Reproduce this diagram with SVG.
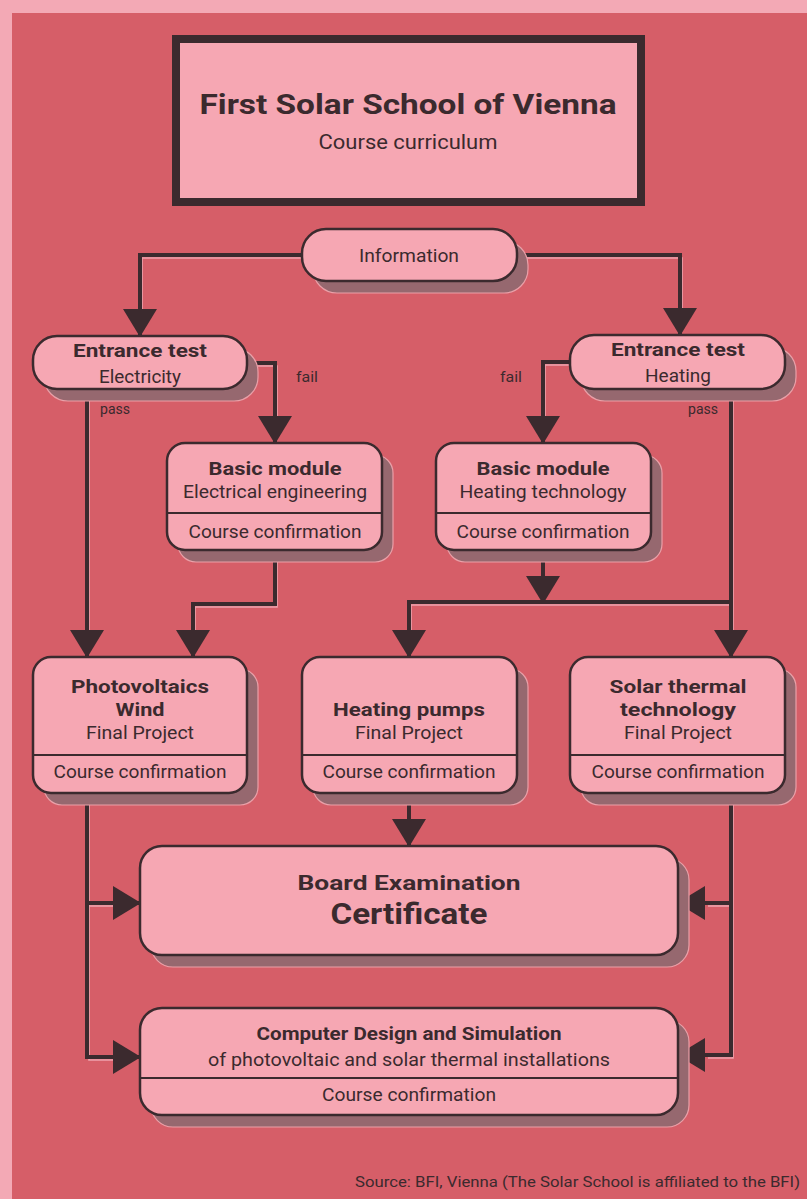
<svg xmlns="http://www.w3.org/2000/svg" width="807" height="1199" viewBox="0 0 807 1199">
<defs>
<style>
.t{font-family:Roboto,"Liberation Sans",sans-serif;fill:#3b2a2e;text-anchor:middle}
.b{font-weight:bold}
.n{fill:#f6a7b3;stroke:#3b2a2e;stroke-width:2.5}
.sh{fill:#96686f;stroke:#e9a0a8;stroke-width:1.2}
.dv{stroke:#3b2a2e;stroke-width:2}
.c{fill:none;stroke:#3b2a2e;stroke-width:4;stroke-linejoin:miter}
.hl{fill:none;stroke:#eea3ad;stroke-width:1.6}
</style>
<marker id="ah" markerUnits="userSpaceOnUse" markerWidth="28" markerHeight="34" refX="27" refY="17" orient="auto" viewBox="0 0 28 34">
<path d="M0,0 L28,17 L0,34 Z" fill="#3b2a2e"/>
</marker>
</defs>
<rect x="0" y="0" width="807" height="1199" fill="#f3a9b5"/>
<rect x="12" y="13" width="795" height="1186" fill="#d65e68"/>

<g id="title">
<rect x="176" y="39" width="465" height="163" fill="#f6a7b3" stroke="#3b2a2e" stroke-width="8"/>
<text class="t b" x="408" y="114" font-size="28" textLength="417" lengthAdjust="spacingAndGlyphs">First Solar School of Vienna</text>
<text class="t" x="408" y="149" font-size="20" textLength="179" lengthAdjust="spacingAndGlyphs">Course curriculum</text>
</g>

<g id="connectors">
<g transform="translate(2,3)">
<path class="hl" d="M302,255 H140 V320"/>
<path class="hl" d="M517,255 H680 V320"/>
<path class="hl" d="M247,363 H275 V430"/>
<path class="hl" d="M570,362 H543 V430"/>
<path class="hl" d="M87,389 V640"/>
<path class="hl" d="M731,389 V640"/>
<path class="hl" d="M275,550 V604 H193 V640"/>
<path class="hl" d="M409,640 V602 H731"/>
<path class="hl" d="M87,793 V1057 H112"/>
<path class="hl" d="M87,903 H112"/>
<path class="hl" d="M731,793 V1055 H706"/>
<path class="hl" d="M731,903 H706"/>
</g>
<path class="c" d="M302,255 H140 V336" marker-end="url(#ah)"/>
<path class="c" d="M517,255 H680 V335" marker-end="url(#ah)"/>
<path class="c" d="M247,363 H275 V443" marker-end="url(#ah)"/>
<path class="c" d="M570,362 H543 V443" marker-end="url(#ah)"/>
<path class="c" d="M87,389 V657" marker-end="url(#ah)"/>
<path class="c" d="M731,389 V657" marker-end="url(#ah)"/>
<path class="c" d="M275,550 V604 H193 V657" marker-end="url(#ah)"/>
<path class="c" d="M543,550 V603" marker-end="url(#ah)"/>
<path class="c" d="M731,602 H409 V657" marker-end="url(#ah)"/>
<path class="c" d="M409,793 V846" marker-end="url(#ah)"/>
<path class="c" d="M87,793 V1057 H140" marker-end="url(#ah)"/>
<path class="c" d="M87,903 H140" marker-end="url(#ah)"/>
<path class="c" d="M731,793 V1055 H678" marker-end="url(#ah)"/>
<path class="c" d="M731,903 H678" marker-end="url(#ah)"/>
<text class="t" x="307" y="382" font-size="14" textLength="22" lengthAdjust="spacingAndGlyphs">fail</text>
<text class="t" x="511" y="382" font-size="14" textLength="22" lengthAdjust="spacingAndGlyphs">fail</text>
<text class="t" x="115" y="414" font-size="14" textLength="30" lengthAdjust="spacingAndGlyphs">pass</text>
<text class="t" x="703" y="414" font-size="14" textLength="30" lengthAdjust="spacingAndGlyphs">pass</text>
</g>

<g id="information">
<rect class="sh" x="313" y="241" width="215" height="52" rx="24"/>
<rect class="n" x="302" y="229" width="215" height="52" rx="24"/>
<text class="t" x="409" y="262" font-size="19" textLength="100" lengthAdjust="spacingAndGlyphs">Information</text>
</g>

<g id="entrance-electricity">
<rect class="sh" x="44" y="348" width="214" height="53" rx="24"/>
<rect class="n" x="33" y="336" width="214" height="53" rx="24"/>
<text class="t b" x="140" y="357" font-size="19" textLength="134" lengthAdjust="spacingAndGlyphs">Entrance test</text>
<text class="t" x="140" y="383" font-size="19" textLength="82" lengthAdjust="spacingAndGlyphs">Electricity</text>
</g>

<g id="entrance-heating">
<rect class="sh" x="581" y="347" width="215" height="54" rx="24"/>
<rect class="n" x="570" y="335" width="215" height="54" rx="24"/>
<text class="t b" x="678" y="356" font-size="19" textLength="134" lengthAdjust="spacingAndGlyphs">Entrance test</text>
<text class="t" x="678" y="382" font-size="19" textLength="66" lengthAdjust="spacingAndGlyphs">Heating</text>
</g>

<g id="basic-electrical">
<rect class="sh" x="178" y="455" width="215" height="107" rx="18"/>
<rect class="n" x="167" y="443" width="215" height="107" rx="18"/>
<line class="dv" x1="167" y1="513" x2="382" y2="513"/>
<text class="t b" x="275" y="475" font-size="19" textLength="133" lengthAdjust="spacingAndGlyphs">Basic module</text>
<text class="t" x="275" y="498" font-size="19" textLength="184" lengthAdjust="spacingAndGlyphs">Electrical engineering</text>
<text class="t" x="275" y="538" font-size="19" textLength="173" lengthAdjust="spacingAndGlyphs">Course confirmation</text>
</g>

<g id="basic-heating">
<rect class="sh" x="447" y="455" width="215" height="107" rx="18"/>
<rect class="n" x="436" y="443" width="215" height="107" rx="18"/>
<line class="dv" x1="436" y1="513" x2="651" y2="513"/>
<text class="t b" x="543" y="475" font-size="19" textLength="133" lengthAdjust="spacingAndGlyphs">Basic module</text>
<text class="t" x="543" y="498" font-size="19" textLength="167" lengthAdjust="spacingAndGlyphs">Heating technology</text>
<text class="t" x="543" y="538" font-size="19" textLength="173" lengthAdjust="spacingAndGlyphs">Course confirmation</text>
</g>

<g id="photovoltaics">
<rect class="sh" x="44" y="669" width="214" height="136" rx="18"/>
<rect class="n" x="33" y="657" width="214" height="136" rx="18"/>
<line class="dv" x1="33" y1="755" x2="247" y2="755"/>
<text class="t b" x="140" y="693" font-size="19" textLength="138" lengthAdjust="spacingAndGlyphs">Photovoltaics</text>
<text class="t b" x="140" y="716" font-size="19" textLength="49" lengthAdjust="spacingAndGlyphs">Wind</text>
<text class="t" x="140" y="739" font-size="19" textLength="108" lengthAdjust="spacingAndGlyphs">Final Project</text>
<text class="t" x="140" y="778" font-size="19" textLength="173" lengthAdjust="spacingAndGlyphs">Course confirmation</text>
</g>

<g id="heating-pumps">
<rect class="sh" x="313" y="669" width="215" height="136" rx="18"/>
<rect class="n" x="302" y="657" width="215" height="136" rx="18"/>
<line class="dv" x1="302" y1="755" x2="517" y2="755"/>
<text class="t b" x="409" y="716" font-size="19" textLength="152" lengthAdjust="spacingAndGlyphs">Heating pumps</text>
<text class="t" x="409" y="739" font-size="19" textLength="108" lengthAdjust="spacingAndGlyphs">Final Project</text>
<text class="t" x="409" y="778" font-size="19" textLength="173" lengthAdjust="spacingAndGlyphs">Course confirmation</text>
</g>

<g id="solar-thermal">
<rect class="sh" x="581" y="669" width="215" height="136" rx="18"/>
<rect class="n" x="570" y="657" width="215" height="136" rx="18"/>
<line class="dv" x1="570" y1="755" x2="785" y2="755"/>
<text class="t b" x="678" y="693" font-size="19" textLength="137" lengthAdjust="spacingAndGlyphs">Solar thermal</text>
<text class="t b" x="678" y="716" font-size="19" textLength="116" lengthAdjust="spacingAndGlyphs">technology</text>
<text class="t" x="678" y="739" font-size="19" textLength="108" lengthAdjust="spacingAndGlyphs">Final Project</text>
<text class="t" x="678" y="778" font-size="19" textLength="173" lengthAdjust="spacingAndGlyphs">Course confirmation</text>
</g>

<g id="board-examination">
<rect class="sh" x="151" y="858" width="538" height="109" rx="22"/>
<rect class="n" x="140" y="846" width="538" height="109" rx="22"/>
<text class="t b" x="409" y="890" font-size="21" textLength="223" lengthAdjust="spacingAndGlyphs">Board Examination</text>
<text class="t b" x="409" y="924" font-size="30" textLength="157" lengthAdjust="spacingAndGlyphs">Certificate</text>
</g>

<g id="computer-design">
<rect class="sh" x="151" y="1020" width="538" height="107" rx="22"/>
<rect class="n" x="140" y="1008" width="538" height="107" rx="22"/>
<line class="dv" x1="140" y1="1078" x2="678" y2="1078"/>
<text class="t b" x="409" y="1040" font-size="19" textLength="305" lengthAdjust="spacingAndGlyphs">Computer Design and Simulation</text>
<text class="t" x="409" y="1066" font-size="19" textLength="402" lengthAdjust="spacingAndGlyphs">of photovoltaic and solar thermal installations</text>
<text class="t" x="409" y="1101" font-size="19" textLength="174" lengthAdjust="spacingAndGlyphs">Course confirmation</text>
</g>

<text class="t" x="800" y="1187" font-size="15" style="text-anchor:end" textLength="445" lengthAdjust="spacingAndGlyphs">Source: BFI, Vienna (The Solar School is affiliated to the BFI)</text>
</svg>
